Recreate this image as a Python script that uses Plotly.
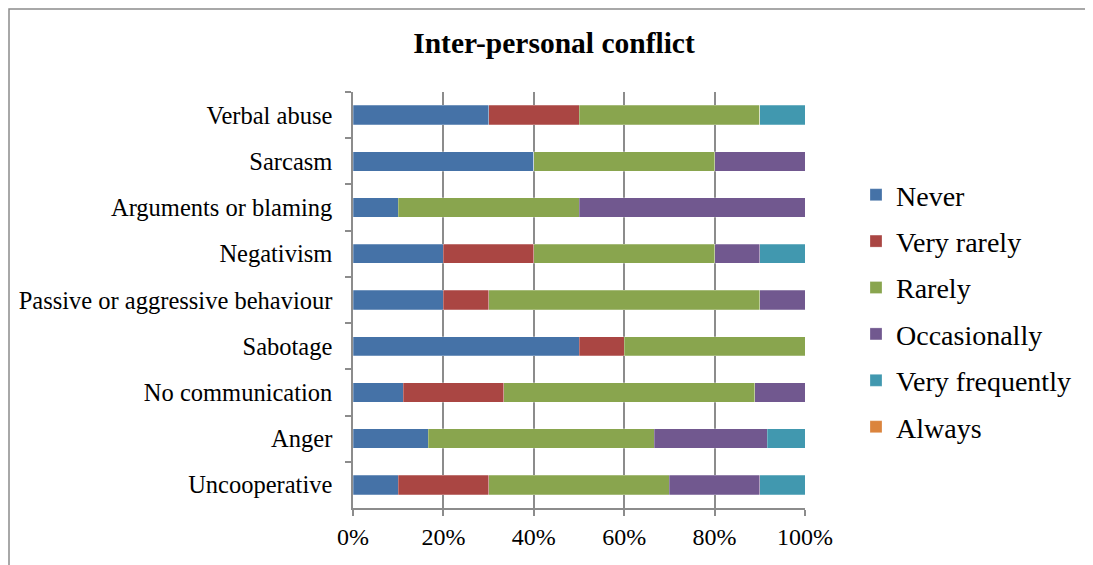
import plotly.graph_objects as go

categories = ["Verbal abuse", "Sarcasm", "Arguments or blaming", "Negativism",
              "Passive or aggressive behaviour", "Sabotage", "No communication",
              "Anger", "Uncooperative"]
series_names = ["Never", "Very rarely", "Rarely", "Occasionally", "Very frequently", "Always"]
never = [30, 40, 10, 20, 20, 50, 11.1, 16.7, 10]
very_rarely = [20, 0, 0, 20, 10, 10, 22.2, 0, 20]
rarely = [40, 40, 40, 40, 60, 40, 55.6, 50, 40]
occasionally = [0, 20, 50, 10, 10, 0, 11.1, 25, 20]
very_frequently = [10, 0, 0, 10, 0, 0, 0, 8.3, 10]
always = [0, 0, 0, 0, 0, 0, 0, 0, 0]
values = [never, very_rarely, rarely, occasionally, very_frequently, always]
colors = ["#4572A7", "#AA4643", "#89A54E", "#71588F", "#4198AF", "#DB843D"]
x_ticks = [0, 20, 40, 60, 80, 100]
x_tick_labels = ["0%", "20%", "40%", "60%", "80%", "100%"]

FONT = "Liberation Serif"

fig = go.Figure()
for i, (name, vals, col) in enumerate(zip(series_names, values, colors)):
    fig.add_trace(go.Bar(
        y=categories, x=vals, name=name, orientation="h",
        marker=dict(color=col, line=dict(color="rgba(255,255,255,0.5)", width=0.5)),
        legendgroup=name,
    ))

# plot area in page pixels: x 353..805, y 92..508 (page body has 8px offset)
fig.update_layout(
    barmode="stack",
    bargap=0.58,
    width=1093, height=565,
    margin=dict(l=345, r=296, t=84, b=65),
    paper_bgcolor="white", plot_bgcolor="white",
    font=dict(family=FONT, size=23, color="black"),
    title=dict(text="<b>Inter-personal conflict</b>", x=(554 - 8) / 1093, xanchor="center",
               y=1 - (43 - 8) / 565, yanchor="middle", font=dict(family=FONT, size=29.5, color="black")),
    legend=dict(x=(856 - 353) / 452, xanchor="left", y=(508 - 170) / 416, yanchor="top",
                font=dict(family=FONT, size=28, color="black"),
                traceorder="grouped", tracegroupgap=7,
                itemwidth=30),
    xaxis=dict(range=[0, 100], tickvals=x_ticks, ticktext=x_tick_labels,
               showgrid=True, gridcolor="#8C8C8C", gridwidth=1.5,
               showline=True, linecolor="#8C8C8C", linewidth=1.5,
               ticks="outside", ticklen=6, tickcolor="#8C8C8C", tickwidth=1.5,
               tickfont=dict(family=FONT, size=24, color="black"),
               zeroline=False, fixedrange=True),
    yaxis=dict(autorange="reversed", type="category",
               showline=True, linecolor="#8C8C8C", linewidth=1.5,
               ticks="outside", ticklen=6, tickcolor="#8C8C8C", tickwidth=1.5,
               tickfont=dict(family=FONT, size=24.5, color="black"),
               tickson="boundaries", ticklabelstandoff=14, showgrid=False, fixedrange=True),
    showlegend=True,
)

# outer chart border (figure starts at page offset 8px)
fig.add_shape(type="rect", xref="paper", yref="paper",
              x0=(9 - 353) / 452, x1=(1120 - 353) / 452,
              y0=(508 - 600) / 416, y1=(508 - 9) / 416,
              line=dict(color="#8C8C8C", width=1.5), fillcolor="rgba(0,0,0,0)", layer="below")

fig.write_html("out.html")
